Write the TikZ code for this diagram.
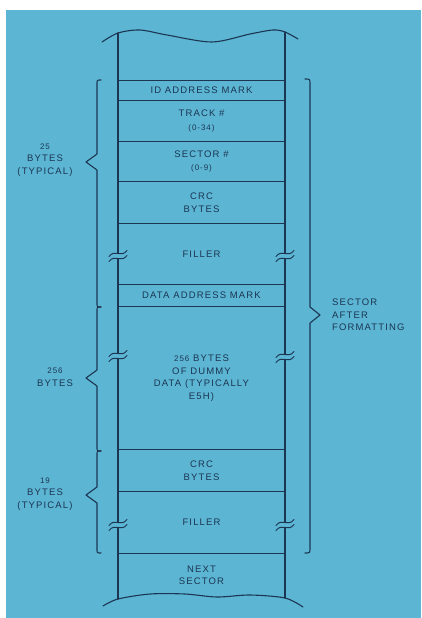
\documentclass[tikz,border=0pt]{standalone}
\usepackage{fontspec}
\newfontfamily\lab[LetterSpace=12]{Liberation Sans}
\definecolor{bg}{HTML}{5CB6D3}
\definecolor{ink}{HTML}{1B3553}
\newcommand\numf{\fontsize{8}{10}\selectfont}
\tikzset{
  txt/.style={text=ink, align=center, inner sep=0pt, font=\lab\fontsize{9.5}{12.5}\selectfont},
  seg/.style={txt, draw=ink, line width=1.1pt, minimum width=167pt, anchor=north},
  ln/.style={draw=ink, line width=1.1pt, line join=round, line cap=round},
  brk/.pic={
    \fill[bg] (-1.6,-2.2) rectangle (1.6,2.2);
    \draw[ln, line width=1pt] (-9,0.5) .. controls (-3,-7.5) and (3,2.5) .. (9,-5.5);
    \draw[ln, line width=1pt] (-9,5.5) .. controls (-3,-2.5) and (3,7.5) .. (9,-0.5);
  }
}
\begin{document}
\begin{tikzpicture}[x=1pt,y=-1pt]
\useasboundingbox (0,0) rectangle (421,618);
\fill[white] (0,0) rectangle (421,618);
\fill[bg] (6,10) rectangle (421,618);

% column rows
\node[seg, minimum height=20pt] (id) at (201.5,80) {ID ADDRESS MARK};
\node[seg, minimum height=41pt] (track) at (201.5,100) {TRACK \#\\[1pt]{\numf (0-34)}};
\node[seg, minimum height=40pt] (sector) at (201.5,141) {SECTOR \#\\[1pt]{\numf (0-9)}};
\node[seg, minimum height=42pt] (crc) at (201.5,181) {CRC\\BYTES};
\node[seg, minimum height=61pt] (fill1) at (201.5,223) {FILLER};
\node[seg, minimum height=22pt] (dam) at (201.5,284) {DATA ADDRESS MARK};
\node[seg, minimum height=143pt] (data) at (201.5,306) {{\numf 256} BYTES\\OF DUMMY\\DATA (TYPICALLY\\E5H)};
\node[seg, minimum height=42pt] (crc2) at (201.5,449) {CRC\\BYTES};
\node[seg, minimum height=62pt] (fill2) at (201.5,491) {FILLER};
\node[txt, minimum width=167pt, minimum height=44pt, anchor=north] (next) at (201.5,553) {NEXT\\SECTOR};

% column sides and wavy ends
\coordinate (tl) at (118,33);
\coordinate (bl) at (118,599);
\coordinate (tr) at (285,32);
\coordinate (br) at (285,598);
\draw[ln] (tl) -- (bl);
\draw[ln] (tr) -- (br);
\draw[ln] plot[smooth] coordinates {(102,42) (118,33) (140,30) (167,35) (212,42) (250,34) (273,30) (285,32) (298,39)};
\draw[ln] plot[smooth] coordinates {(103,606) (118,599) (150,594) (185,594) (217,597) (250,595) (285,598) (303,607)};

% break marks
\pic at (118,256) {brk};
\pic at (285,256) {brk};
\pic at (118,356) {brk};
\pic at (285,357) {brk};
\pic at (118,525) {brk};
\pic at (285,525) {brk};

% left braces
\draw[ln] (101,80) .. controls (97,80) .. (97,84) -- (97,154) -- (86,162) -- (97,170) -- (97,303) .. controls (97,307) .. (101,307);
\draw[ln] (101,307) .. controls (97,307) .. (97,311) -- (97,370) -- (86,378) -- (97,386) -- (97,447) .. controls (97,451) .. (101,451);
\draw[ln] (101,451) .. controls (97,451) .. (97,455) -- (97,487) -- (86,495) -- (97,503) -- (97,549) .. controls (97,553) .. (101,553);

% right brace
\draw[ln] (305,79) .. controls (310,79) .. (310,84) -- (310,307) -- (320,315) -- (310,323) -- (310,548) .. controls (310,553) .. (305,553);

% labels
\node[txt] (l1) at (45,160) {{\numf 25}\\BYTES\\(TYPICAL)};
\node[txt] (l2) at (55,377) {{\numf 256}\\BYTES};
\node[txt] (l3) at (45,494) {{\numf 19}\\BYTES\\(TYPICAL)};
\node[txt, align=left, anchor=west] (r1) at (332,315) {SECTOR\\AFTER\\FORMATTING};
\end{tikzpicture}
\end{document}
